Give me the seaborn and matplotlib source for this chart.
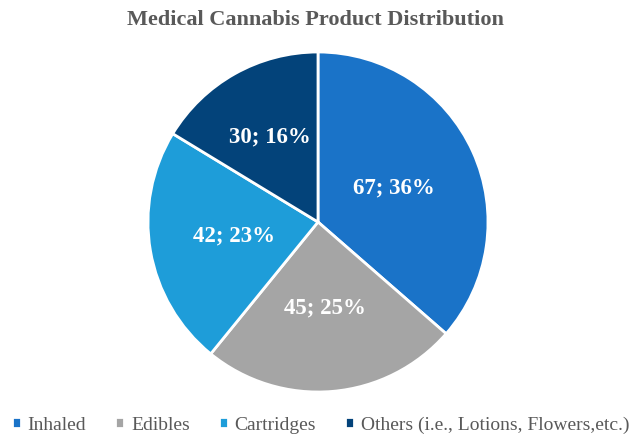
import matplotlib
matplotlib.use("Agg")
import matplotlib.pyplot as plt
import seaborn as sns

categories = ["Inhaled", "Edibles", "Cartridges", "Others (i.e., Lotions, Flowers,etc.)"]
counts = [67, 45, 42, 30]
pct_labels = ["36%", "25%", "23%", "16%"]
colors = ["#1a73c8", "#a5a5a5", "#1e9dd9", "#03437a"]

sns.set_theme(style="white")
plt.rcParams["font.family"] = ["Liberation Serif", "DejaVu Serif"]

fig = plt.figure(figsize=(6.31, 4.38), dpi=100)
ax = fig.add_axes([(318 - 170) / 631, 1 - 392 / 438, 340 / 631, 340 / 438])

labels = [f"{c}; {p}" for c, p in zip(counts, pct_labels)]
wedges, texts = ax.pie(counts, labels=labels, colors=colors, startangle=90,
                       counterclock=False, labeldistance=0.5,
                       wedgeprops=dict(edgecolor="white", linewidth=2))
# nudge label radii to where they sit in the picture
dist = [0.49, 0.51, 0.50, 0.575]
for t, d in zip(texts, dist):
    x, y = t.get_position()
    t.set_position((x * d / 0.5, y * d / 0.5))
    t.set_color("white")
    t.set_fontsize(16.5)
    t.set_fontweight("bold")
    t.set_ha("center")
    t.set_va("center")
ax.set_xlim(-1.0, 1.0)
ax.set_ylim(-1.0, 1.0)
ax.set_aspect("equal")

fig.suptitle("Medical Cannabis Product Distribution", y=0.978, fontsize=16,
             fontweight="bold", color="#595959")

leg = fig.legend(wedges, categories, loc="center", ncol=4, frameon=False,
                 bbox_to_anchor=(0.508, 1 - 425 / 438), fontsize=14,
                 handlelength=0.45, handleheight=0.45, handletextpad=0.35,
                 columnspacing=1.5, borderpad=0)
for t in leg.get_texts():
    t.set_color("#595959")

fig.savefig("out.png", dpi=100)
